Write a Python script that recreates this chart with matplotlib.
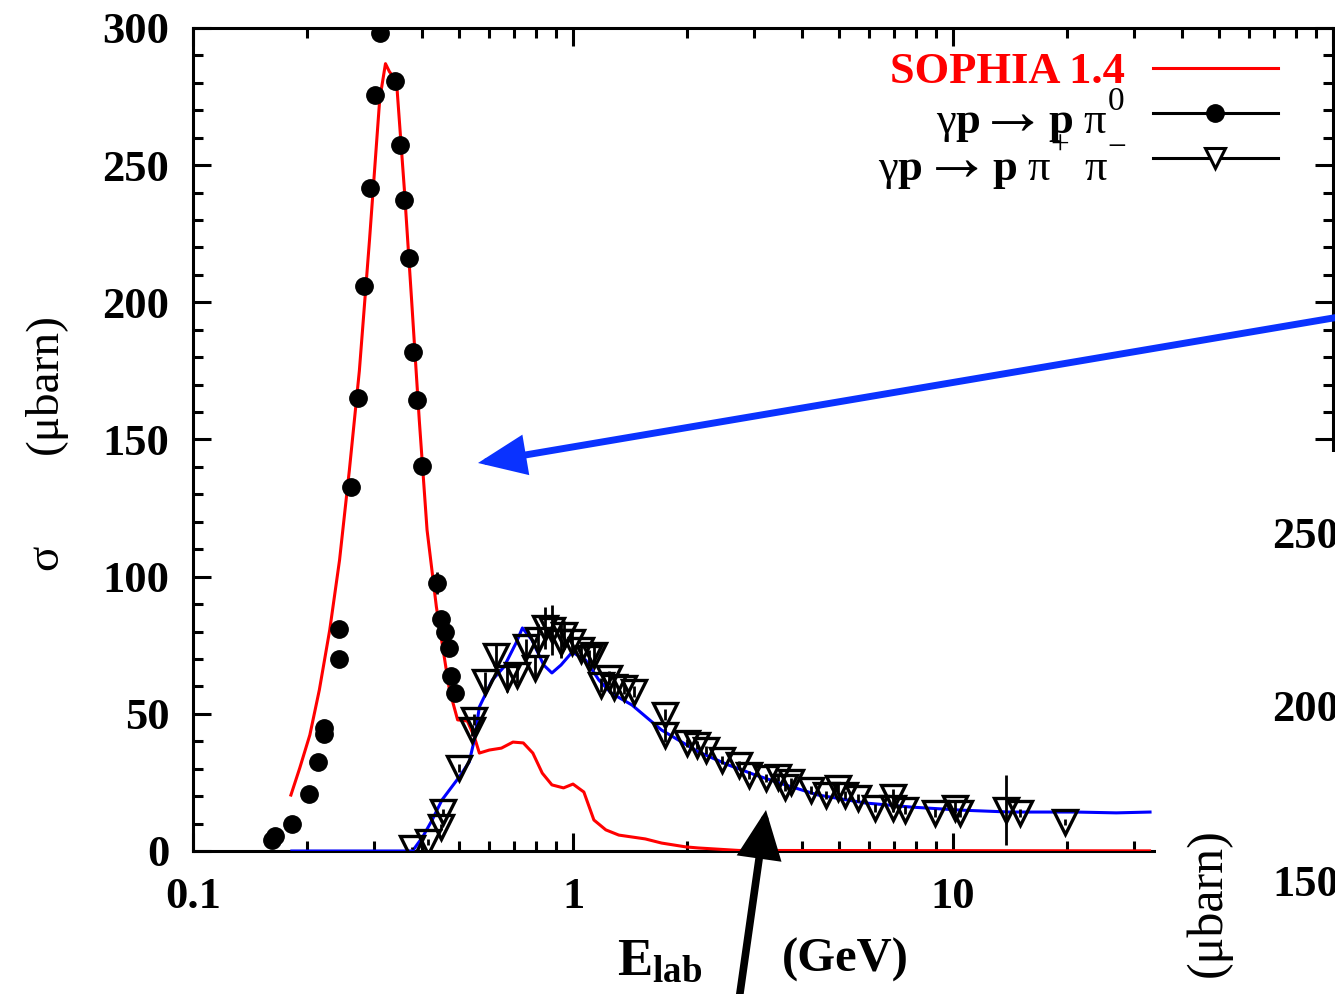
import numpy as np
import matplotlib.pyplot as plt
from matplotlib.ticker import MultipleLocator, FixedLocator, NullFormatter
from matplotlib.patches import Rectangle, FancyArrowPatch
from matplotlib.lines import Line2D

plt.rcParams['font.family'] = ['Liberation Serif', 'DejaVu Serif']
plt.rcParams['mathtext.fontset'] = 'custom'
plt.rcParams['mathtext.rm'] = 'Liberation Serif'
plt.rcParams['mathtext.it'] = 'Liberation Serif:italic'
plt.rcParams['mathtext.bf'] = 'Liberation Serif:bold'

# SOPHIA 1.4, gamma p -> p pi0 (red)
sophia_pi0_e = [0.181, 0.191, 0.203, 0.215, 0.229, 0.243, 0.258, 0.274, 0.2915, 0.310,
                0.321, 0.329, 0.343, 0.360, 0.376, 0.394, 0.413, 0.437, 0.473, 0.497,
                0.527, 0.55, 0.567, 0.602, 0.648, 0.695, 0.74, 0.784, 0.83, 0.88,
                0.944, 1.0, 1.068, 1.135, 1.22, 1.32, 1.55, 1.71, 1.98, 2.14, 2.73, 32.9]
sophia_pi0_s = [20.4, 30.3, 42.3, 58.7, 80.6, 106, 139, 175, 223, 274,
                287, 284, 281, 241, 201, 157, 117, 89, 58.7, 47.8,
                47.4, 41.6, 35.7, 36.8, 37.5, 39.7, 39.4, 35.7, 28.4, 24.1,
                23.0, 24.4, 21.5, 11.3, 7.7, 5.8, 4.4, 2.9, 1.5, 1.1, 0.2, 0.05]

# SOPHIA 1.4, gamma p -> p pi+ pi- (blue)
sophia_2pi_e = [0.182, 0.378, 0.402, 0.426, 0.452, 0.502, 0.533, 0.550, 0.567, 0.613,
                0.658, 0.708, 0.736, 0.78, 0.837, 0.88, 0.93, 0.995, 1.08, 1.17,
                1.26, 1.43, 1.71, 2.14, 2.56, 3.02, 3.62, 4.42, 5.88, 7.77,
                10.5, 14.1, 21.1, 26.9, 33.0]
sophia_2pi_s = [0, 0, 5.1, 11.3, 18.6, 27.0, 32.4, 40.5, 52.5, 62.3,
                67.1, 75.8, 81.3, 76.9, 67.8, 64.9, 67.8, 72.5, 69.6, 62.3,
                57.6, 53.2, 44.1, 36.1, 31.4, 27.7, 24.1, 20.4, 17.5, 16.0,
                14.9, 14.2, 14.2, 13.9, 14.2]

# data, gamma p -> p pi0
pi0_e = [0.161, 0.164, 0.182, 0.2016, 0.213, 0.221, 0.221, 0.242, 0.242, 0.261,
         0.271, 0.281, 0.2915, 0.302, 0.311, 0.341, 0.351, 0.360, 0.371, 0.380,
         0.3896, 0.4016, 0.4396, 0.450, 0.4613, 0.4727, 0.4776, 0.490]
pi0_s = [4.0, 5.5, 10.0, 20.8, 32.4, 42.7, 45.0, 70.0, 81.0, 132.7,
         165.0, 206.0, 241.7, 275.6, 298.0, 280.7, 257.4, 237.3, 216.2, 182.0,
         164.4, 140.4, 97.7, 84.6, 79.8, 74.0, 63.8, 57.6]
pi0_err = [1, 1, 1, 1, 1, 1, 1, 3, 2, 2,
           2, 2, 2, 2, 2, 2, 2, 2, 2, 2,
           2, 2, 4, 3, 2, 2, 2, 2]

# data, gamma p -> p pi+ pi-
pipi_e = [0.376, 0.416, 0.450, 0.456, 0.502, 0.543, 0.550, 0.588, 0.628, 0.671,
          0.713, 0.753, 0.795, 0.809, 0.844, 0.881, 0.930, 0.947, 0.994, 1.049,
          1.101, 1.135, 1.184, 1.243, 1.281, 1.361, 1.446, 1.744, 1.744, 1.992,
          2.116, 2.234, 2.461, 2.727, 2.897, 3.229, 3.473, 3.624, 3.756, 4.24,
          4.64, 4.99, 5.21, 5.63, 6.24, 6.96, 6.96, 7.48, 8.97, 10.12,
          10.43, 13.77, 14.99, 19.7]
pipi_s = [1.1, 3.3, 8.7, 14.2, 30.3, 44.1, 47.8, 61.6, 71.1, 63.1,
          64.2, 74.4, 66.7, 76.9, 81.3, 80.6, 76.2, 78.7, 76.2, 73.3,
          70.4, 71.5, 60.5, 63.1, 59.8, 59.4, 58.0, 49.6, 42.3, 39.4,
          38.6, 36.8, 33.2, 31.4, 27.7, 26.6, 27.0, 23.3, 25.2, 22.2,
          20.4, 23.0, 20.4, 19.3, 15.7, 19.7, 15.7, 14.9, 13.9, 15.7,
          13.9, 14.9, 13.9, 10.6]
pipi_err = [0.5, 1, 1, 1, 1.5, 2, 2, 3.5, 4, 5,
            3, 3, 4, 6, 7.6, 9, 6, 5, 4, 3,
            3, 3, 2.5, 2.5, 2.5, 2, 2, 2, 2.5, 1.5,
            1.5, 1.5, 1.5, 1.5, 1.5, 1.5, 1.5, 1.5, 1.5, 1.5,
            1.5, 1.5, 1.5, 1.5, 1.5, 3, 1.5, 1.5, 1.5, 2,
            1.5, 12.8, 1.5, 1]

W, H = 1335, 994


def fx(px):
    return px / W


def fy(py):
    return 1 - py / H


fig = plt.figure(figsize=(13.35, 9.94), dpi=100)
ax = fig.add_axes([fx(193), fy(851), fx(1333) - fx(193), fy(28) - fy(851)])
ax.set_xscale('log')
ax.set_xlim(0.1, 100)
ax.set_ylim(0, 300)

ax.plot(sophia_pi0_e, sophia_pi0_s, color='red', lw=2.2, zorder=3)
ax.plot(sophia_2pi_e, sophia_2pi_s, color='blue', lw=2.2, zorder=3)
ax.errorbar(pi0_e, pi0_s, yerr=pi0_err, fmt='o', color='black', ms=12.5,
            elinewidth=2, capsize=0, zorder=4)
ax.errorbar(pipi_e, pipi_s, yerr=pipi_err, fmt='v', mfc='none', mec='black',
            mew=2.4, ms=17, ecolor='black', elinewidth=2, capsize=0, zorder=4)

# axes and ticks
for sp in ax.spines.values():
    sp.set_linewidth(2.2)
ax.xaxis.set_major_locator(FixedLocator([0.1, 1, 10, 100]))
ax.set_xticklabels(['0.1', '1', '10', ''])
ax.xaxis.set_minor_formatter(NullFormatter())
ax.yaxis.set_major_locator(MultipleLocator(50))
ax.yaxis.set_minor_locator(MultipleLocator(10))
ax.tick_params(which='both', direction='in', top=True, right=True, width=2.2)
ax.tick_params(which='major', length=13)
ax.tick_params(which='minor', length=7)
ax.tick_params(axis='x', pad=19, labelsize=32)
ax.tick_params(axis='y', pad=17, labelsize=32)
for lb in ax.get_xticklabels() + ax.get_yticklabels():
    lb.set_fontweight('bold')

# axis titles
fig.text(fx(46), fy(557), 'σ', rotation=90, ha='center', va='center', size=34)
fig.text(fx(45), fy(383), '(μbarn)', rotation=90, ha='center', va='center', size=34)
fig.text(fx(660), fy(962), r'$\mathbf{E_{lab}}$', ha='center', va='center', size=38)
fig.text(fx(845), fy(960), '(GeV)', ha='center', va='center', size=35, weight='bold')

# legend
gp = r'$\mathrm{\gamma}\mathbf{p}$'
fig.text(fx(1125), fy(83), 'SOPHIA 1.4', color='red', weight='bold', size=32,
         ha='right', va='baseline')
# line 1: gamma p -> p pi0
fig.text(fx(981), fy(133), gp, ha='right', va='baseline', size=32)
fig.text(fx(1013), fy(110), '→', ha='center', va='center_baseline', size=50)
fig.text(fx(1107), fy(133), r'$\mathbf{p}\ \mathrm{\pi}$', ha='right', va='baseline', size=32)
fig.text(fx(1108), fy(110), '0', ha='left', va='baseline', size=24)
# line 2: gamma p -> p pi+ pi-
fig.text(fx(923), fy(180), gp, ha='right', va='baseline', size=32)
fig.text(fx(957), fy(156), '→', ha='center', va='center_baseline', size=50)
fig.text(fx(1051), fy(180), r'$\mathbf{p}\ \mathrm{\pi}$', ha='right', va='baseline', size=32)
fig.text(fx(1050), fy(155), '+', ha='left', va='baseline', size=24)
fig.text(fx(1107), fy(180), 'π', ha='right', va='baseline', size=32)
fig.text(fx(1107), fy(156), '−', ha='left', va='baseline', size=24)
fig.add_artist(Line2D([fx(1153), fx(1278)], [fy(68), fy(68)], color='red', lw=2.2))
fig.add_artist(Line2D([fx(1153), fx(1278)], [fy(113), fy(113)], color='black', lw=2.2))
fig.add_artist(Line2D([fx(1215)], [fy(113)], color='black', marker='o', ms=12.5))
fig.add_artist(Line2D([fx(1153), fx(1278)], [fy(158), fy(158)], color='black', lw=2.2))
fig.add_artist(Line2D([fx(1215)], [fy(158)], color='black', marker='v', ms=14,
                      mfc='white', mew=2.2))

# overlapping second panel (cropped slide)
fig.add_artist(Rectangle((fx(1156), 0), 1 - fx(1156), fy(452), transform=fig.transFigure,
                         facecolor='white', edgecolor='none', zorder=10))
for val, py in [('250', 537), ('200', 710), ('150', 885)]:
    fig.text(fx(1272), fy(py), val, ha='left', va='center', size=32, weight='bold', zorder=11)
fig.text(fx(1208), fy(828), '(μbarn)', rotation=90, ha='center', va='top', size=36, zorder=11)

# arrows
fig.add_artist(FancyArrowPatch((fx(1345), fy(316)), (fx(478), fy(463)),
                               transform=fig.transFigure, arrowstyle='-|>,head_length=1.3,head_width=0.55',
                               mutation_scale=20, color='#0a32ff', lw=5, shrinkA=0, shrinkB=0,
                               joinstyle='miter', zorder=12))
fig.add_artist(FancyArrowPatch((fx(739), fy(1000)), (fx(766), fy(810)),
                               transform=fig.transFigure, arrowstyle='-|>,head_length=1.3,head_width=0.6',
                               mutation_scale=20, color='black', lw=5.5, shrinkA=0, shrinkB=0,
                               joinstyle='miter', zorder=12))

fig.savefig('out.png', dpi=100)
